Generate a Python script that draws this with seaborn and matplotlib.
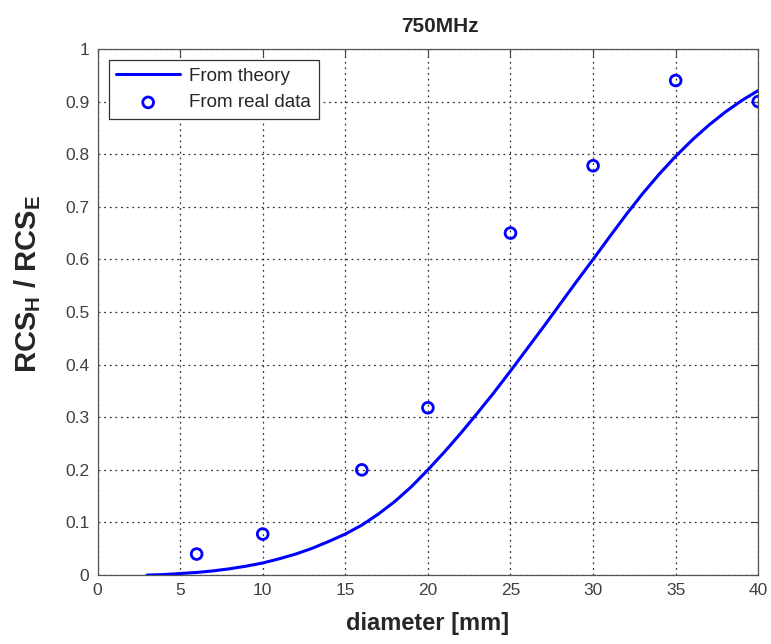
import numpy as np
import pandas as pd
import matplotlib
matplotlib.use("Agg")
import matplotlib.pyplot as plt
import seaborn as sns

# 理论曲线（从图中逐点读取）
theory_d = [3, 4, 5, 6, 7, 8, 9, 10, 11, 12, 13, 14, 15, 16, 17, 18, 19, 20, 21, 22,
            23, 24, 25, 26, 27, 28, 29, 30, 31, 32, 33, 34, 35, 36, 37, 38, 39, 40]
theory_r = [0.000, 0.001, 0.003, 0.005, 0.008, 0.012, 0.017, 0.023, 0.031, 0.040,
            0.051, 0.064, 0.078, 0.095, 0.116, 0.140, 0.168, 0.200, 0.234, 0.270,
            0.308, 0.347, 0.388, 0.430, 0.472, 0.515, 0.558, 0.600, 0.643, 0.685,
            0.725, 0.762, 0.796, 0.827, 0.855, 0.880, 0.902, 0.921]

# 实测数据
real_d = [6, 10, 16, 20, 25, 30, 35, 40]
real_r = [0.04, 0.078, 0.2, 0.318, 0.65, 0.778, 0.94, 0.9]

sns.set_style("white")
plt.rcParams["font.family"] = ["Liberation Sans", "DejaVu Sans"]
plt.rcParams["mathtext.fontset"] = "custom"
plt.rcParams["mathtext.rm"] = "Liberation Sans"
plt.rcParams["mathtext.bf"] = "Liberation Sans:bold"

fig = plt.figure(figsize=(7.71, 6.44), dpi=100)
ax = fig.add_axes([0.1265, 0.107, 0.857, 0.817])

theory_df = pd.DataFrame({"d": theory_d, "r": theory_r})
real_df = pd.DataFrame({"d": real_d, "r": real_r})

sns.lineplot(data=theory_df, x="d", y="r", ax=ax, color="#0000ff", linewidth=2.2,
             label="From theory", zorder=3)
sns.scatterplot(data=real_df, x="d", y="r", ax=ax, marker="o", s=60,
                facecolor="none", edgecolor="#0000ff", linewidth=2.0,
                label="From real data", zorder=4)

ax.set_xlim(0, 40)
ax.set_ylim(0, 1)
ax.set_xticks(np.arange(0, 41, 5))
ax.set_yticks(np.arange(0, 1.01, 0.1))
ax.set_xticklabels([str(v) for v in range(0, 41, 5)])
ax.set_yticklabels(["0"] + [f"{v:.1f}" for v in np.arange(0.1, 0.95, 0.1)] + ["1"])
ax.grid(True, linestyle=(0, (1.5, 3)), color="#333333", linewidth=0.9)
ax.tick_params(direction="in", top=True, right=True, length=5, width=0.8,
               colors="#444444", labelsize=12.5, labelcolor="#404040", pad=6)
for sp in ax.spines.values():
    sp.set_color("#555555")
    sp.set_linewidth(0.9)

ax.set_xlabel("diameter [mm]", fontsize=17, fontweight="bold", labelpad=10)
ax.set_ylabel(r"$\mathbf{RCS_H}$ / $\mathbf{RCS_E}$", fontsize=21, fontweight="bold")
ax.yaxis.set_label_coords(-0.083, 0.553)
ax.set_title("750MHz", fontsize=15, fontweight="bold", pad=12, x=0.518)

leg = ax.legend(loc="upper left", fontsize=13.5, frameon=True, fancybox=False,
                edgecolor="#333333", framealpha=1, borderpad=0.4,
                handlelength=3.4, handletextpad=0.5, labelspacing=0.5,
                borderaxespad=0.6)
leg.get_frame().set_linewidth(0.9)

fig.savefig("out.png", dpi=100)
